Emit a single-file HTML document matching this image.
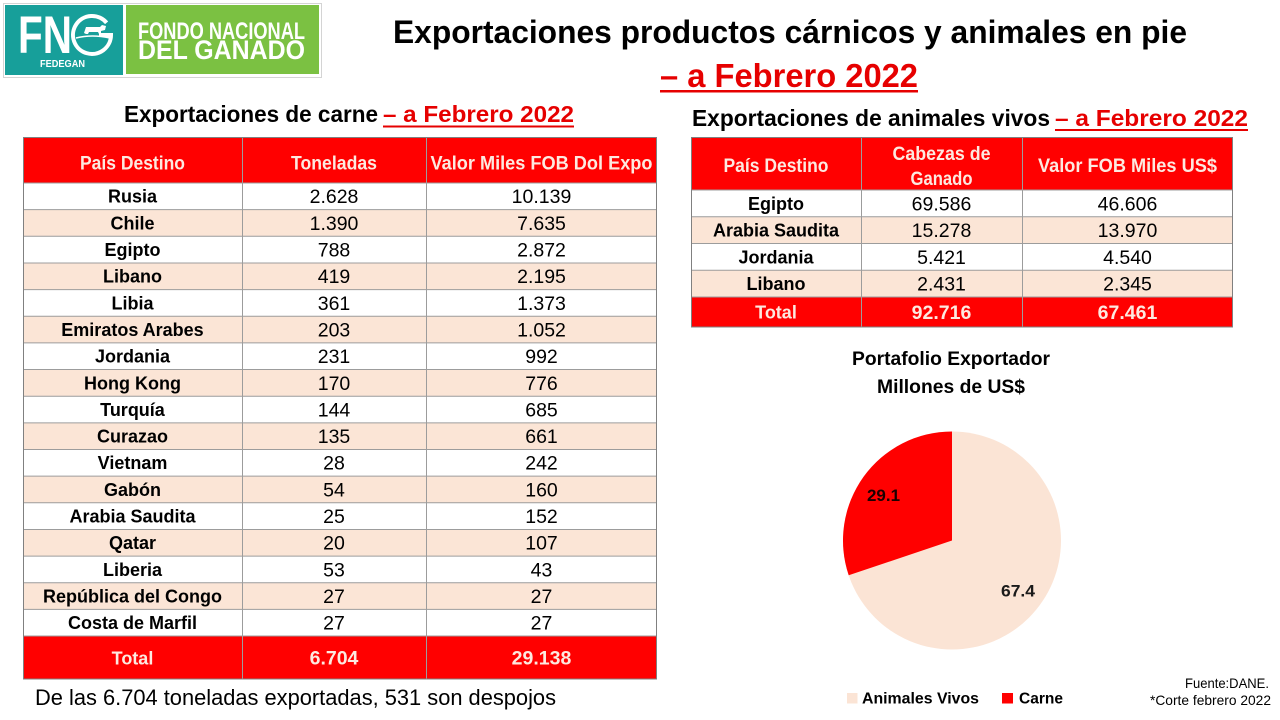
<!DOCTYPE html>
<html>
<head>
<meta charset="utf-8">
<style>
html,body{margin:0;padding:0;background:#fff;}
body{width:1280px;height:720px;overflow:hidden;}
svg{display:block;}
text{font-family:"Liberation Sans",sans-serif;}
.b{font-weight:bold;}
</style>
</head>
<body>
<svg width="1280" height="720" viewBox="0 0 1280 720" xmlns="http://www.w3.org/2000/svg">
<rect x="0" y="0" width="1280" height="720" fill="#fff"/>

<!-- LOGO -->
<rect x="3.5" y="3.5" width="318" height="74" fill="#fff" stroke="#d4d4d4" stroke-width="1"/>
<rect x="5" y="5" width="118" height="70" fill="#179f9a"/>
<rect x="126" y="5" width="193" height="69" fill="#7bc142"/>
<text x="18" y="53" font-size="53" font-weight="bold" fill="#fff" textLength="54" lengthAdjust="spacingAndGlyphs">FN</text>
<path d="M106.6,22.8 A19,19 0 1 0 111,35 L99,35" fill="none" stroke="#fff" stroke-width="4"/>
<path d="M84,33 L86,27 L100,27 L102,25 L106,26 L105,30 L101,31 L101,34 L99,34 L98,32 L89,32 L88,34 L86,34 Z" fill="#fff"/>
<path d="M76,38 Q92,34 110,38" fill="none" stroke="#fff" stroke-width="1.5"/>
<text x="40" y="67" font-size="10" font-weight="bold" fill="#fff" textLength="45" lengthAdjust="spacingAndGlyphs">FEDEGAN</text>
<text x="138" y="39" font-size="24" font-weight="bold" fill="#fff" textLength="167" lengthAdjust="spacingAndGlyphs">FONDO NACIONAL</text>
<text x="138" y="59" font-size="27" font-weight="bold" fill="#fff" textLength="167" lengthAdjust="spacingAndGlyphs">DEL GANADO</text>

<!-- MAIN TITLE -->
<text x="393" y="43" font-size="32" class="b" fill="#000" textLength="794" lengthAdjust="spacingAndGlyphs">Exportaciones productos cárnicos y animales en pie</text>
<text x="660" y="87" font-size="33" class="b" fill="#e60000" textLength="258" lengthAdjust="spacingAndGlyphs">– a Febrero 2022</text>
<rect x="660" y="90" width="258" height="2.5" fill="#e60000"/>

<!-- LEFT SUBTITLE -->
<text x="124" y="122" font-size="23" class="b" fill="#000" textLength="254" lengthAdjust="spacingAndGlyphs">Exportaciones de carne</text>
<text x="383" y="122" font-size="23" class="b" fill="#e60000" textLength="191" lengthAdjust="spacingAndGlyphs">– a Febrero 2022</text>
<rect x="383" y="125.5" width="191" height="2" fill="#e60000"/>

<!-- RIGHT SUBTITLE -->
<text x="692" y="126" font-size="23" class="b" fill="#000" textLength="358" lengthAdjust="spacingAndGlyphs">Exportaciones de animales vivos</text>
<text x="1055" y="126" font-size="23" class="b" fill="#e60000" textLength="193" lengthAdjust="spacingAndGlyphs">–  a Febrero 2022</text>
<rect x="1055" y="129" width="193" height="2" fill="#e60000"/>

<!-- LEFT TABLE -->
<rect x="23" y="137" width="634" height="46" fill="#ff0000"/>
<rect x="23" y="209.65" width="634" height="26.65" fill="#fbe5d6"/>
<rect x="23" y="262.95" width="634" height="26.65" fill="#fbe5d6"/>
<rect x="23" y="316.25" width="634" height="26.65" fill="#fbe5d6"/>
<rect x="23" y="369.55" width="634" height="26.65" fill="#fbe5d6"/>
<rect x="23" y="422.85" width="634" height="26.65" fill="#fbe5d6"/>
<rect x="23" y="476.15" width="634" height="26.65" fill="#fbe5d6"/>
<rect x="23" y="529.45" width="634" height="26.65" fill="#fbe5d6"/>
<rect x="23" y="582.75" width="634" height="26.65" fill="#fbe5d6"/>
<rect x="23" y="636.05" width="634" height="43" fill="#ff0000"/>
<g stroke="#9c9c9c" stroke-width="1">
<line x1="23" y1="183" x2="657" y2="183"/>
<line x1="23" y1="209.65" x2="657" y2="209.65"/>
<line x1="23" y1="236.3" x2="657" y2="236.3"/>
<line x1="23" y1="262.95" x2="657" y2="262.95"/>
<line x1="23" y1="289.6" x2="657" y2="289.6"/>
<line x1="23" y1="316.25" x2="657" y2="316.25"/>
<line x1="23" y1="342.9" x2="657" y2="342.9"/>
<line x1="23" y1="369.55" x2="657" y2="369.55"/>
<line x1="23" y1="396.2" x2="657" y2="396.2"/>
<line x1="23" y1="422.85" x2="657" y2="422.85"/>
<line x1="23" y1="449.5" x2="657" y2="449.5"/>
<line x1="23" y1="476.15" x2="657" y2="476.15"/>
<line x1="23" y1="502.8" x2="657" y2="502.8"/>
<line x1="23" y1="529.45" x2="657" y2="529.45"/>
<line x1="23" y1="556.1" x2="657" y2="556.1"/>
<line x1="23" y1="582.75" x2="657" y2="582.75"/>
<line x1="23" y1="609.4" x2="657" y2="609.4"/>
<line x1="23" y1="636.05" x2="657" y2="636.05"/>
<line x1="242.5" y1="137" x2="242.5" y2="679"/>
<line x1="426.5" y1="137" x2="426.5" y2="679"/>
</g>
<rect x="23.5" y="137.5" width="633" height="541.5" fill="none" stroke="#808080" stroke-width="1"/>

<g font-size="19" class="b" fill="#fde9e0" text-anchor="middle">
<text x="132.5" y="169.5" textLength="105" lengthAdjust="spacingAndGlyphs">País Destino</text>
<text x="334" y="169.5" textLength="86" lengthAdjust="spacingAndGlyphs">Toneladas</text>
<text x="541.5" y="169.5" textLength="222" lengthAdjust="spacingAndGlyphs">Valor Miles FOB Dol Expo</text>
</g>

<g font-size="18" class="b" fill="#000" text-anchor="middle">
<text x="132.5" y="202.7">Rusia</text>
<text x="132.5" y="229.4">Chile</text>
<text x="132.5" y="256">Egipto</text>
<text x="132.5" y="282.7">Libano</text>
<text x="132.5" y="309.3">Libia</text>
<text x="132.5" y="336">Emiratos Arabes</text>
<text x="132.5" y="362.6">Jordania</text>
<text x="132.5" y="389.3">Hong Kong</text>
<text x="132.5" y="415.9">Turquía</text>
<text x="132.5" y="442.6">Curazao</text>
<text x="132.5" y="469.2">Vietnam</text>
<text x="132.5" y="495.9">Gabón</text>
<text x="132.5" y="522.5">Arabia Saudita</text>
<text x="132.5" y="549.2">Qatar</text>
<text x="132.5" y="575.8">Liberia</text>
<text x="132.5" y="602.5">República del Congo</text>
<text x="132.5" y="629.1">Costa de Marfil</text>
</g>
<g font-size="19.5" fill="#000" text-anchor="middle">
<text x="334" y="203.2">2.628</text><text x="541.5" y="203.2">10.139</text>
<text x="334" y="229.9">1.390</text><text x="541.5" y="229.9">7.635</text>
<text x="334" y="256.5">788</text><text x="541.5" y="256.5">2.872</text>
<text x="334" y="283.2">419</text><text x="541.5" y="283.2">2.195</text>
<text x="334" y="309.8">361</text><text x="541.5" y="309.8">1.373</text>
<text x="334" y="336.5">203</text><text x="541.5" y="336.5">1.052</text>
<text x="334" y="363.1">231</text><text x="541.5" y="363.1">992</text>
<text x="334" y="389.8">170</text><text x="541.5" y="389.8">776</text>
<text x="334" y="416.4">144</text><text x="541.5" y="416.4">685</text>
<text x="334" y="443.1">135</text><text x="541.5" y="443.1">661</text>
<text x="334" y="469.7">28</text><text x="541.5" y="469.7">242</text>
<text x="334" y="496.4">54</text><text x="541.5" y="496.4">160</text>
<text x="334" y="523">25</text><text x="541.5" y="523">152</text>
<text x="334" y="549.7">20</text><text x="541.5" y="549.7">107</text>
<text x="334" y="576.3">53</text><text x="541.5" y="576.3">43</text>
<text x="334" y="603">27</text><text x="541.5" y="603">27</text>
<text x="334" y="629.6">27</text><text x="541.5" y="629.6">27</text>
</g>
<g class="b" fill="#fde9e0" text-anchor="middle">
<text x="132.5" y="664.5" font-size="18">Total</text>
<text x="334" y="664.5" font-size="19.5">6.704</text>
<text x="541.5" y="664.5" font-size="19.5">29.138</text>
</g>

<!-- RIGHT TABLE -->
<rect x="691" y="137" width="542" height="53" fill="#ff0000"/>
<rect x="691" y="216.75" width="542" height="26.75" fill="#fbe5d6"/>
<rect x="691" y="270.25" width="542" height="26.75" fill="#fbe5d6"/>
<rect x="691" y="297" width="542" height="30" fill="#ff0000"/>
<g stroke="#9c9c9c" stroke-width="1">
<line x1="691" y1="190" x2="1233" y2="190"/>
<line x1="691" y1="216.75" x2="1233" y2="216.75"/>
<line x1="691" y1="243.5" x2="1233" y2="243.5"/>
<line x1="691" y1="270.25" x2="1233" y2="270.25"/>
<line x1="691" y1="297" x2="1233" y2="297"/>
<line x1="861.5" y1="137" x2="861.5" y2="327"/>
<line x1="1022.5" y1="137" x2="1022.5" y2="327"/>
</g>
<rect x="691.5" y="137.5" width="541" height="189.5" fill="none" stroke="#808080" stroke-width="1"/>
<g font-size="19" class="b" fill="#fde9e0" text-anchor="middle">
<text x="776" y="172" textLength="105" lengthAdjust="spacingAndGlyphs">País Destino</text>
<text x="941.5" y="160" textLength="98" lengthAdjust="spacingAndGlyphs">Cabezas de</text>
<text x="941.5" y="185" textLength="62" lengthAdjust="spacingAndGlyphs">Ganado</text>
<text x="1127.5" y="172" textLength="179" lengthAdjust="spacingAndGlyphs">Valor FOB Miles US$</text>
</g>
<g font-size="18" class="b" fill="#000" text-anchor="middle">
<text x="776" y="209.8">Egipto</text>
<text x="776" y="236.5">Arabia Saudita</text>
<text x="776" y="263.3">Jordania</text>
<text x="776" y="290">Libano</text>
</g>
<g font-size="19.5" fill="#000" text-anchor="middle">
<text x="941.5" y="210.4">69.586</text><text x="1127.5" y="210.4">46.606</text>
<text x="941.5" y="237.1">15.278</text><text x="1127.5" y="237.1">13.970</text>
<text x="941.5" y="263.9">5.421</text><text x="1127.5" y="263.9">4.540</text>
<text x="941.5" y="290.6">2.431</text><text x="1127.5" y="290.6">2.345</text>
</g>
<g class="b" fill="#fde9e0" text-anchor="middle">
<text x="776" y="318.7" font-size="18">Total</text>
<text x="941.5" y="319" font-size="19.5">92.716</text>
<text x="1127.5" y="319" font-size="19.5">67.461</text>
</g>

<!-- PIE -->
<text x="852" y="365" font-size="19" class="b" fill="#000" textLength="198" lengthAdjust="spacingAndGlyphs">Portafolio Exportador</text>
<text x="877" y="393" font-size="19" class="b" fill="#000" textLength="148" lengthAdjust="spacingAndGlyphs">Millones de US$</text>
<circle cx="952" cy="540.5" r="109" fill="#fbe4d5"/>
<path d="M952,540.5 L952,431.5 A109,109 0 0 0 848.7,575.3 Z" fill="#ff0000"/>
<text x="867" y="501" font-size="17" class="b" fill="#1a0000" textLength="33" lengthAdjust="spacingAndGlyphs">29.1</text>
<text x="1001" y="596.5" font-size="17" class="b" fill="#1a1a1a" textLength="34" lengthAdjust="spacingAndGlyphs">67.4</text>

<!-- LEGEND -->
<rect x="847" y="693" width="10.5" height="10.5" fill="#fbe4d5"/>
<text x="862" y="703.5" font-size="16" class="b" fill="#000" textLength="117" lengthAdjust="spacingAndGlyphs">Animales Vivos</text>
<rect x="1002" y="693" width="11" height="10.5" fill="#ff0000"/>
<text x="1019" y="703.5" font-size="16" class="b" fill="#000" textLength="44" lengthAdjust="spacingAndGlyphs">Carne</text>

<!-- SOURCE -->
<text x="1185" y="688" font-size="14" fill="#000" textLength="84" lengthAdjust="spacingAndGlyphs">Fuente:DANE.</text>
<text x="1150" y="705" font-size="14" fill="#000" textLength="121" lengthAdjust="spacingAndGlyphs">*Corte febrero 2022</text>

<!-- FOOTER -->
<text x="35" y="705" font-size="22" fill="#000" textLength="521" lengthAdjust="spacingAndGlyphs">De las 6.704 toneladas exportadas,  531 son despojos</text>
</svg>
</body>
</html>
